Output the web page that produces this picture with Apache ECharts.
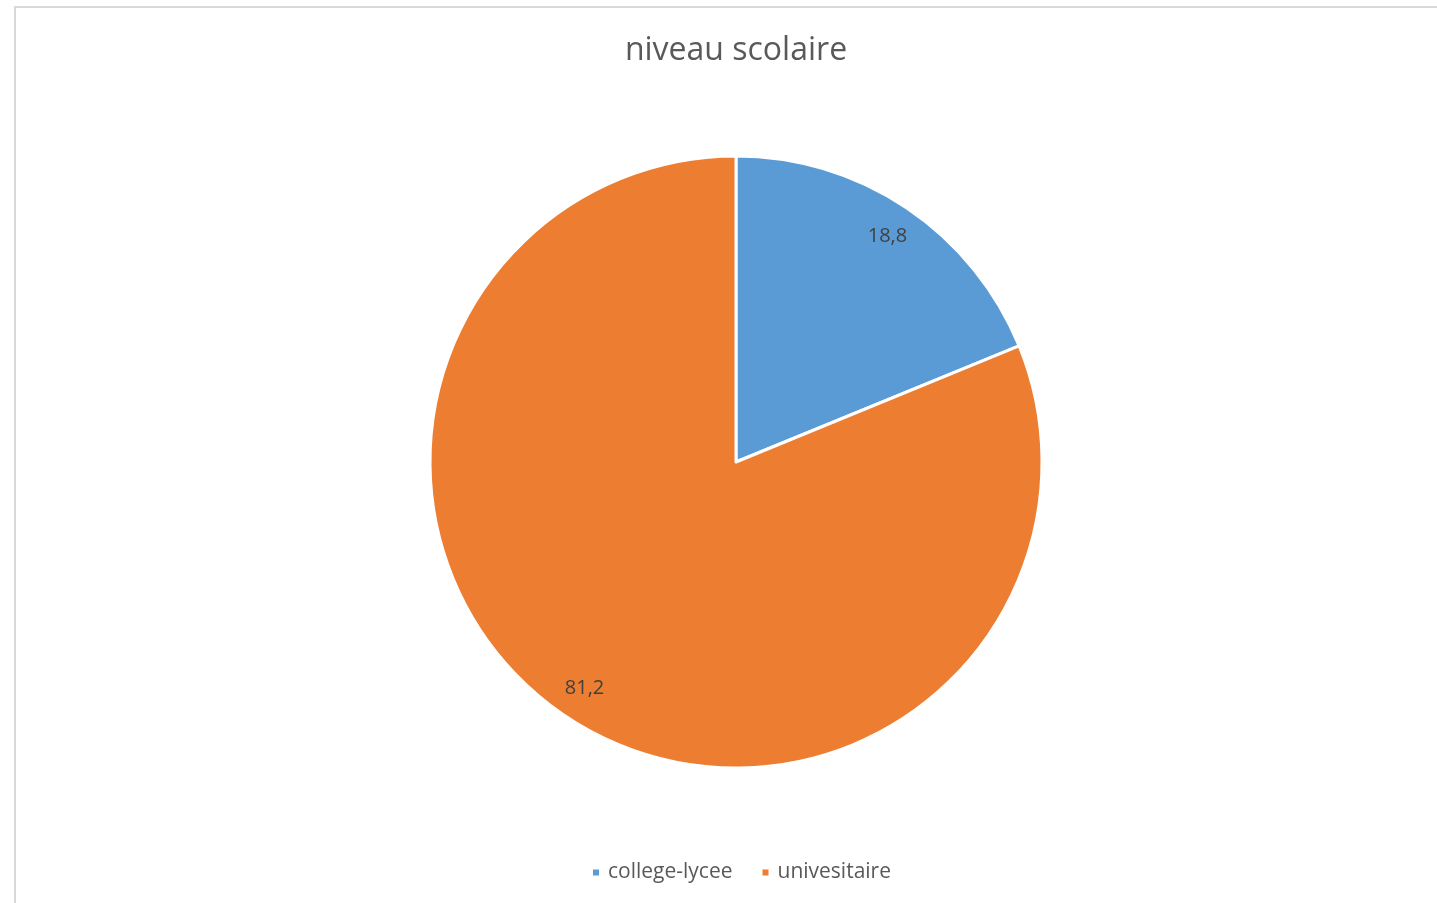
<!DOCTYPE html>
<html>
<head>
<meta charset="utf-8">
<script src="https://cdn.jsdelivr.net/npm/echarts@6/dist/echarts.min.js"></script>
<style>
html,body{margin:0;padding:0;background:#fff;}
#chart{width:1437px;height:903px;}
</style>
</head>
<body>
<div id="chart"></div>
<script>
const title = 'niveau scolaire';
const categories = ['college-lycee', 'univesitaire'];
const values = [18.8, 81.2];
const colors = ['#5B9BD5', '#ED7D31'];

const data = categories.map((c, i) => ({ name: c, value: values[i], itemStyle: { color: colors[i] } }));
const fmt = p => String(p.value).replace('.', ',');
const font = '"Open Sans", "Noto Sans", sans-serif';

const chart = echarts.init(document.getElementById('chart'), null, { renderer: 'canvas' });
chart.setOption({
  animation: false,
  backgroundColor: '#fff',
  graphic: [{
    type: 'rect',
    shape: { x: 15, y: 7, width: 1500, height: 1000 },
    style: { fill: 'none', stroke: '#d9d9d9', lineWidth: 2 },
    silent: true, z: -10
  }],
  title: {
    text: title,
    left: 731,
    textAlign: 'center',
    top: 30,
    textStyle: { fontFamily: font, fontSize: 32, fontWeight: 'normal', color: '#595959' }
  },
  legend: {
    bottom: 15,
    left: 586,
    itemWidth: 8, itemHeight: 8, itemGap: 28,
    icon: 'rect',
    textStyle: { fontFamily: font, fontSize: 21, color: '#595959', padding: [0, 0, 0, 3] },
    data: categories
  },
  series: [{
    type: 'pie',
    center: [736, 462],
    radius: [0, 306],
    startAngle: 90,
    clockwise: true,
    silent: true,
    itemStyle: { borderColor: '#fff', borderWidth: 3 },
    label: { show: false },
    labelLine: { show: false },
    data: data
  }, {
    type: 'pie',
    center: [736, 462],
    radius: [232, 306],
    startAngle: 90,
    clockwise: true,
    silent: true,
    legendHoverLink: false,
    itemStyle: { color: 'rgba(0,0,0,0)', borderWidth: 0 },
    label: { show: true, position: 'inside', formatter: fmt, fontFamily: font, fontSize: 20, color: '#404040' },
    labelLine: { show: false },
    data: categories.map((c, i) => ({ name: c, value: values[i] }))
  }]
});
</script>
</body>
</html>
